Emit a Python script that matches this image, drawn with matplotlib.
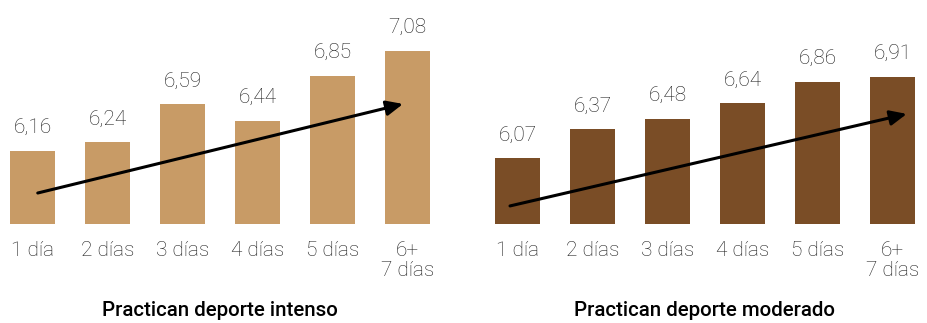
import matplotlib.pyplot as plt

categories = ['1 día', '2 días', '3 días', '4 días', '5 días', '6+\n7 días']
intenso = [6.16, 6.24, 6.59, 6.44, 6.85, 7.08]
moderado = [6.07, 6.37, 6.48, 6.64, 6.86, 6.91]
titles = ['Practican deporte intenso', 'Practican deporte moderado']
bar_colors = ['#C89B66', '#7A4D26']

# trend arrows, (x, y) start and end in data units
arrows = [((0.07, 5.775), (4.94, 6.594)),
          ((-0.1, 5.577), (5.19, 6.53))]
ylims = [(5.49, 7.55), (5.39, 7.71)]

plt.rcParams['font.family'] = ['Roboto', 'DejaVu Sans']
text_color = '#1e1e1e'

fig = plt.figure(figsize=(9.27, 3.23), dpi=100)
lefts = [10 / 927, 495 / 927]
width = 420 / 927
bottom = (323 - 224) / 323
height = 224 / 323

for i, values in enumerate([intenso, moderado]):
    ax = fig.add_axes([lefts[i], bottom, width, height])
    x = list(range(len(values)))
    ax.bar(x, values, width=0.6, color=bar_colors[i], bottom=0)
    ax.set_xlim(-0.3, 5.3)
    ax.set_ylim(*ylims[i])
    for xi, v in zip(x, values):
        ax.annotate(f'{v:.2f}'.replace('.', ','), (xi, v), xytext=(0, 10),
                    textcoords='offset points', ha='center', va='bottom',
                    fontsize=15, fontweight='light', color=text_color)
    (x0, y0), (x1, y1) = arrows[i]
    ax.annotate('', xy=(x1, y1), xytext=(x0, y0),
                arrowprops=dict(arrowstyle='-|>,head_length=1.0,head_width=0.45',
                                color='black', lw=2.2, shrinkA=0, shrinkB=0))
    ax.set_xticks(x)
    ax.set_xticklabels(categories, fontsize=15, fontweight='light',
                       color=text_color, linespacing=1.05)
    ax.tick_params(axis='x', length=0, pad=12.5)
    ax.set_yticks([])
    for s in ax.spines.values():
        s.set_visible(False)
    fig.text(lefts[i] + width / 2, 1 - 310 / 323, titles[i], ha='center',
             va='center', fontsize=14.8, fontweight='medium', color='black')

fig.savefig('out.png', dpi=100)
